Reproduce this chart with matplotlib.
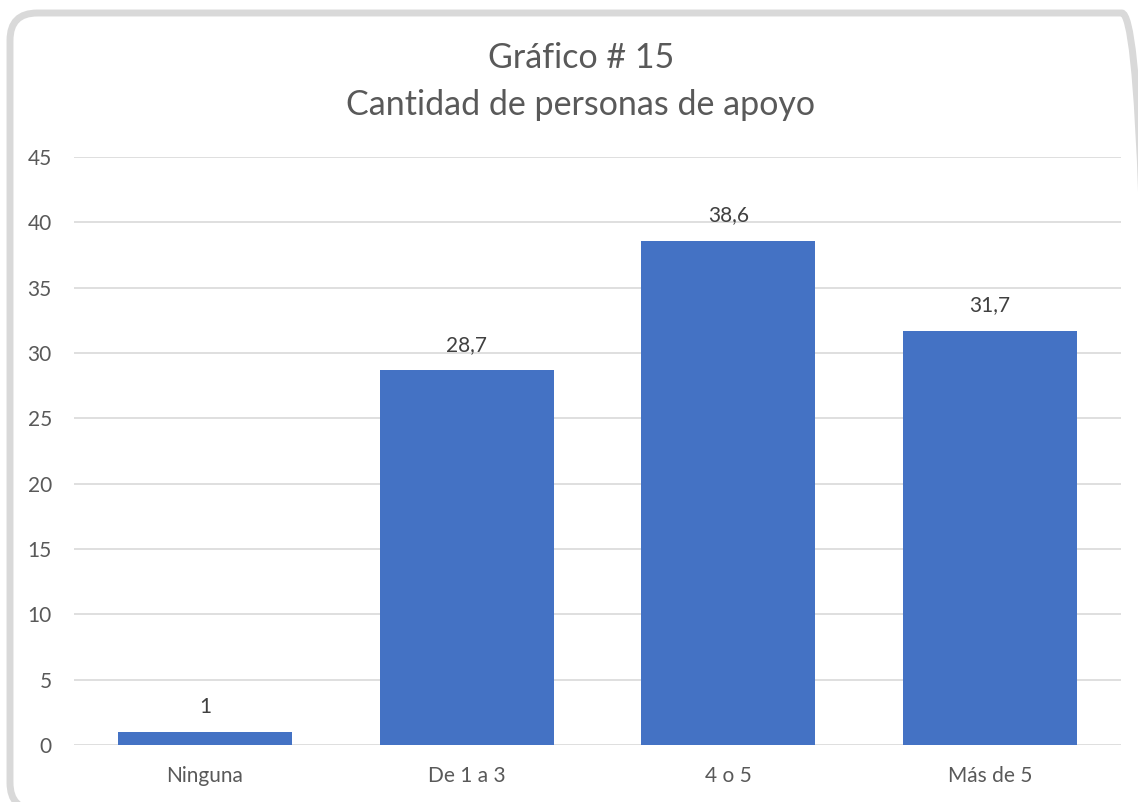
import matplotlib
matplotlib.use("Agg")
import matplotlib.pyplot as plt
from matplotlib.patches import FancyBboxPatch

categories = ["Ninguna", "De 1 a 3", "4 o 5", "Más de 5"]
values = [1, 28.7, 38.6, 31.7]
labels = ["1", "28,7", "38,6", "31,7"]
yticks = [0, 5, 10, 15, 20, 25, 30, 35, 40, 45]

plt.rcParams['font.family'] = ['Lato', 'DejaVu Sans']
W, H = 1138, 802
fig = plt.figure(figsize=(W/100, H/100), dpi=100)
fig.patch.set_facecolor("white")

# rounded border
border = FancyBboxPatch((10/W, -8/H), (1149-10)/W, (H-13+8)/H,
                        boxstyle="round,pad=0,rounding_size=0.024",
                        transform=fig.transFigure, facecolor="none",
                        edgecolor="#d9d9d9", linewidth=5, zorder=5,
                        mutation_aspect=W/H)
fig.patches.append(border)

ax = fig.add_axes([74/W, 1-745/H, (1121-74)/W, (745-157)/H])
ax.set_facecolor("none")
x = range(len(categories))
bars = ax.bar(x, values, width=0.665, color="#4472c4", zorder=3)
ax.set_xlim(-0.5, len(categories)-0.5)
ax.set_ylim(0, 45)
ax.set_yticks(yticks)
ax.set_yticklabels([str(t) for t in yticks])
ax.set_xticks(list(x))
ax.set_xticklabels(categories)
ax.grid(axis="y", color="#d9d9d9", linewidth=1.2, zorder=0)
for s in ax.spines.values():
    s.set_visible(False)
ax.tick_params(axis="both", length=0, labelsize=15, colors="#595959")
ax.tick_params(axis="y", pad=16)
ax.tick_params(axis="x", pad=15)
for xi, v, lab in zip(x, values, labels):
    ax.annotate(lab, (xi, v), xytext=(0, 11), textcoords="offset points",
                ha="center", va="bottom", fontsize=15, color="#404040")

tx = 581 / W
fig.text(tx, 1-58/H, "Gráfico # 15", ha="center", va="center", fontsize=24.5, color="#595959")
fig.text(tx, 1-105/H, "Cantidad de personas de apoyo", ha="center", va="center", fontsize=24.5, color="#595959")

fig.savefig("out.png", dpi=100)
